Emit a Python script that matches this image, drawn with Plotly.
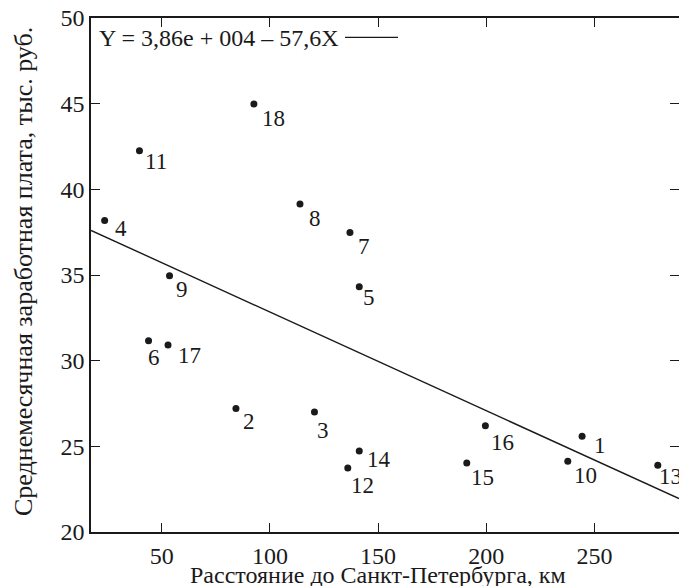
import plotly.graph_objects as go

# ---- data ----
point_labels = ["1", "2", "3", "4", "5", "6", "7", "8", "9", "10",
                "11", "12", "13", "14", "15", "16", "17", "18"]
distance_km = [244.3, 84.3, 120.6, 23.6, 141.3, 43.9, 137.0, 113.9, 53.6, 237.7,
               39.7, 136.0, 279.3, 141.3, 191.0, 199.6, 52.9, 92.6]
salary_thousand_rub = [25.59, 27.21, 27.01, 38.18, 34.32, 31.16, 37.48, 39.15, 34.96, 24.13,
                       42.25, 23.74, 23.90, 24.73, 24.03, 26.20, 30.91, 44.98]

reg_intercept = 38.6      # thousand rub (3,86e+004 rub)
reg_slope = -0.0576       # thousand rub per km (-57,6 rub per km)
equation_text = "Y = 3,86e + 004 – 57,6X"

x_ticks = [50, 100, 150, 200, 250]
y_ticks = [20, 25, 30, 35, 40, 45, 50]
x_range = [17.3, 289.1]
y_range = [20, 50]

x_title = "Расстояние до Санкт-Петербурга, км"
y_title = "Среднемесячная заработная плата, тыс. руб."

# label offsets in pixels (dx right, dy down) – layout only
label_offsets = [(18, 10), (12.7, 14), (9, 20), (16.3, 8.7), (9.3, 11.7), (5, 17.7),
                 (14, 14.7), (14.7, 15.3), (12.3, 15), (18, 15.7), (16.7, 11.7),
                 (14.7, 18.3), (12.3, 12.7), (19.3, 9.3), (16, 15.7), (17, 17.7),
                 (21, 11.7), (19.6, 15.7)]

FONT = "'Liberation Serif', 'Times New Roman', Times, serif"
INK = "#1a1a1a"
W, H = 679, 586
L, R, T, B = 91, 0, 18, 54

reg_x = x_range
reg_y = [reg_intercept + reg_slope * v for v in reg_x]

fig = go.Figure()
fig.add_trace(go.Scatter(x=reg_x, y=reg_y, mode="lines",
                         line=dict(color=INK, width=1.4),
                         hoverinfo="skip", showlegend=False, cliponaxis=True))
fig.add_trace(go.Scatter(x=distance_km, y=salary_thousand_rub, mode="markers",
                         marker=dict(color=INK, size=7),
                         text=point_labels, showlegend=False))
# invisible trace binding the right-hand tick axis
fig.add_trace(go.Scatter(x=reg_x, y=reg_y, mode="lines", yaxis="y2",
                         line=dict(color="rgba(0,0,0,0)", width=0),
                         hoverinfo="skip", showlegend=False))

annotations = []
for lab, xv, yv, (dx, dy) in zip(point_labels, distance_km, salary_thousand_rub, label_offsets):
    annotations.append(dict(x=xv, y=yv, xref="x", yref="y", text=lab, showarrow=False,
                            xanchor="center", yanchor="middle", xshift=dx, yshift=-dy + 1,
                            font=dict(family=FONT, size=23, color=INK)))

pw = W - L - R
ph = H - T - B

def px_to_paper_x(px):
    return (px - L) / pw

def px_to_paper_y(py):
    return (H - B - py) / ph

annotations.append(dict(x=px_to_paper_x(97), y=px_to_paper_y(38.5), xref="paper", yref="paper",
                        text=equation_text, showarrow=False, xanchor="left", yanchor="middle",
                        font=dict(family=FONT, size=24, color=INK)))
annotations.append(dict(x=px_to_paper_x(377.5), y=px_to_paper_y(575), xref="paper", yref="paper",
                        text=x_title, showarrow=False, xanchor="center", yanchor="middle",
                        font=dict(family=FONT, size=24, color=INK)))
annotations.append(dict(x=px_to_paper_x(23), y=px_to_paper_y(272), xref="paper", yref="paper",
                        text=y_title, showarrow=False, xanchor="center", yanchor="middle",
                        textangle=-90, font=dict(family=FONT, size=26, color=INK)))

shapes = [dict(type="line", xref="paper", yref="paper",
               x0=px_to_paper_x(345), x1=px_to_paper_x(398),
               y0=px_to_paper_y(37.3), y1=px_to_paper_y(37.3),
               line=dict(color=INK, width=1.3))]

fig.update_layout(
    width=W, height=H,
    margin=dict(l=L, r=R, t=T, b=B, pad=0),
    paper_bgcolor="white", plot_bgcolor="white",
    font=dict(family=FONT, size=24, color=INK),
    xaxis=dict(range=x_range, tickvals=x_ticks, ticktext=[str(v) for v in x_ticks],
               ticks="inside", ticklen=9, tickwidth=1.3, tickcolor=INK,
               showline=True, linecolor=INK, linewidth=1.5, mirror="ticks",
               showgrid=False, zeroline=False, ticklabelstandoff=1,
               tickfont=dict(family=FONT, size=24, color=INK)),
    yaxis=dict(range=y_range, tickvals=y_ticks, ticktext=[str(v) for v in y_ticks],
               ticks="inside", ticklen=9, tickwidth=1.3, tickcolor=INK,
               showline=True, linecolor=INK, linewidth=1.5,
               showgrid=False, zeroline=False,
               tickfont=dict(family=FONT, size=24, color=INK)),
    yaxis2=dict(range=y_range, tickvals=y_ticks, overlaying="y", side="right",
                ticks="inside", ticklen=9, tickwidth=1.3, tickcolor=INK,
                showticklabels=False, showline=False, showgrid=False, zeroline=False),
    annotations=annotations,
    shapes=shapes,
    showlegend=False,
)

fig.write_html("out.html", config={"displayModeBar": False},
               post_script="document.body.style.margin='0';document.body.style.overflow='hidden';")
